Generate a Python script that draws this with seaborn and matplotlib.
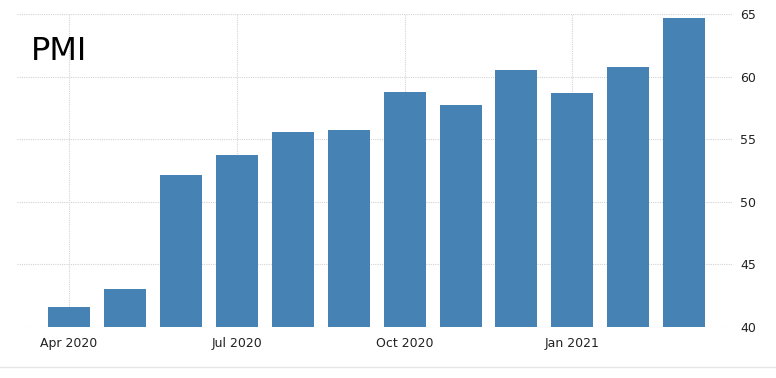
import numpy as np
import pandas as pd
import matplotlib
matplotlib.use("Agg")
import matplotlib.pyplot as plt
import seaborn as sns
from matplotlib.lines import Line2D

months = ["Apr 2020", "May 2020", "Jun 2020", "Jul 2020", "Aug 2020", "Sep 2020",
          "Oct 2020", "Nov 2020", "Dec 2020", "Jan 2021", "Feb 2021", "Mar 2021"]
pmi = [41.6, 43.0, 52.1, 53.7, 55.6, 55.7, 58.8, 57.7, 60.5, 58.7, 60.8, 64.7]
tick_idx = [0, 3, 6, 9]
y_ticks = [40, 45, 50, 55, 60, 65]

df = pd.DataFrame({"month": months, "pmi": pmi})

sns.set_style("white")
plt.rcParams['font.family'] = ['DejaVu Sans']

fig = plt.figure(figsize=(7.76, 3.78), dpi=100)
ax = fig.add_axes([0.022, 0.135, 0.921, 0.828])

sns.barplot(data=df, x="month", y="pmi", color="#4682b4", saturation=1,
            width=0.75, linewidth=0, ax=ax, zorder=3)

ax.set_ylim(40, 65)
ax.set_xlim(-0.93, 11.85)
ax.set_yticks(y_ticks)
ax.set_xticks(tick_idx)
ax.set_xticklabels([months[i] for i in tick_idx])
ax.yaxis.tick_right()
ax.set_xlabel("")
ax.set_ylabel("")

ax.grid(True, axis="both", linestyle=(0, (1, 1)), color="#d4d4d4", linewidth=0.8, zorder=0)
for s in ax.spines.values():
    s.set_visible(False)

ax.tick_params(axis="x", length=4, color="#d0d0d0", labelsize=9, labelcolor="#222222", pad=3)
ax.tick_params(axis="y", length=0, labelsize=9, labelcolor="#222222", pad=6)

ax.text(0.02, 0.88, "PMI", transform=ax.transAxes, fontsize=23, color="black",
        va="center", ha="left")

fig.add_artist(Line2D([0, 1], [1 - 367 / 378] * 2, color="#e6e6e6", linewidth=1))

fig.savefig("out.png", dpi=100)
